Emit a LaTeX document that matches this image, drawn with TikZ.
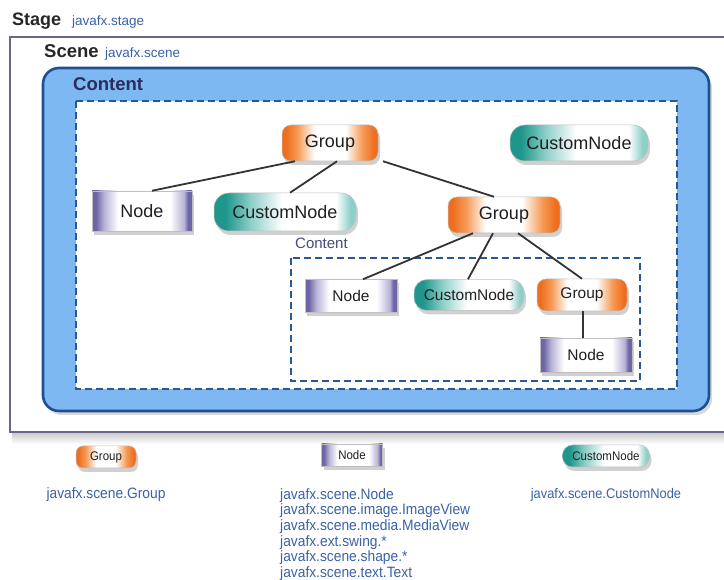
\documentclass[tikz,border=0pt]{standalone}
\usepackage{fontspec}
\setmainfont{Liberation Sans}
\newfontfamily\narrowfont{Liberation Sans}[FakeStretch=0.92]
\usetikzlibrary{shadows,positioning}

\definecolor{stageline}{HTML}{6A6688}
\definecolor{scenefill}{HTML}{7DB8F2}
\definecolor{sceneline}{HTML}{1F4F8E}
\definecolor{dashline}{HTML}{2A5892}
\definecolor{pkgtext}{HTML}{3A62A6}
\definecolor{navy}{HTML}{2A2D5E}
\definecolor{edge}{HTML}{333333}
\definecolor{grpA}{HTML}{EE6E1E}
\definecolor{grpB}{HTML}{F59A55}
\definecolor{nodA}{HTML}{6D66A6}
\definecolor{nodB}{HTML}{B7B2D6}
\definecolor{cusA}{HTML}{1E968C}
\definecolor{cusB}{HTML}{8FCFC9}

% edge-heavy fills for the three kinds of scene-graph nodes
\pgfdeclarehorizontalshading{grpshade}{100bp}{color(0bp)=(grpA); color(25bp)=(grpA);
  color(27bp)=(grpA); color(33bp)=(grpB); color(42bp)=(white); color(58bp)=(white);
  color(67bp)=(grpB); color(73bp)=(grpA); color(75bp)=(grpA); color(100bp)=(grpA)}
\pgfdeclarehorizontalshading{nodshade}{100bp}{color(0bp)=(nodA); color(25bp)=(nodA);
  color(27bp)=(nodA); color(31bp)=(nodB); color(38bp)=(white); color(64bp)=(white);
  color(71bp)=(nodB); color(73bp)=(nodA); color(75bp)=(nodA); color(100bp)=(nodA)}
\pgfdeclarehorizontalshading{cusshade}{100bp}{color(0bp)=(cusA); color(25bp)=(cusA);
  color(29bp)=(cusA); color(38bp)=(cusB); color(49bp)=(white); color(68bp)=(white);
  color(73bp)=(cusB); color(75bp)=(cusB); color(100bp)=(cusB)}

\tikzset{
  sg/.style={draw=black!25, line width=0.5pt, text=black!88, inner sep=0pt,
    drop shadow={shadow xshift=2pt, shadow yshift=-4pt, opacity=0.3, fill=black!60}},
  grpbox/.style={sg, shading=grpshade, rounded corners=9pt},
  nodbox/.style={sg, shading=nodshade},
  cusbox/.style={sg, shading=cusshade, rounded corners=15pt},
  big/.style={font=\fontsize{18}{20}\selectfont, yshift=-1pt},
  mid/.style={font=\fontsize{15.5}{17}\selectfont},
  tiny/.style={font=\narrowfont\fontsize{12.5}{14}\selectfont},
  pkg/.style={text=pkgtext, inner sep=0pt},
  link/.style={draw=edge, line width=1.8pt},
}

\begin{document}
\begin{tikzpicture}[x=1pt, y=-1pt]
\useasboundingbox (0,0) rectangle (724,580);
\fill[white] (0,0) rectangle (724,580);

% Stage window, open to the right
\shade[top color=black!22, bottom color=white] (12,432) rectangle (724,444);
\draw[stageline, line width=1.6pt, fill=white] (10,37) rectangle (740,432);
\node[anchor=base west, inner sep=0pt, font=\bfseries\fontsize{18}{20}\selectfont, text=black!85] (stage) at (12,26) {Stage};
\node[anchor=base west, pkg, font=\fontsize{13.5}{15}\selectfont] (stagepkg) at (72,26) {javafx.stage};

% Scene
\node[anchor=base west, inner sep=0pt, font=\bfseries\fontsize{18.5}{20}\selectfont, text=black!85] (scene) at (44,58) {Scene};
\node[anchor=base west, pkg, font=\fontsize{13.5}{15}\selectfont] (scenepkg) at (105,58) {javafx.scene};

\draw[sceneline, line width=2.6pt, fill=scenefill, rounded corners=16pt,
  drop shadow={shadow xshift=3pt, shadow yshift=-4pt, opacity=0.25, fill=black!60}]
  (43,68) rectangle (709,411);
\node[anchor=base west, inner sep=0pt, font=\bfseries\fontsize{18.5}{20}\selectfont, text=navy] (content) at (73,91) {Content};
\draw[dashline, line width=2.6pt, dash pattern=on 7pt off 4pt, fill=white] (76,101) rectangle (677,389);

% inner content group
\node[anchor=base west, inner sep=0pt, font=\fontsize{15}{17}\selectfont, text=navy!85] (content2) at (295,249) {Content};
\draw[dashline, line width=2pt, dash pattern=on 7pt off 4pt] (291,258) rectangle (640,381);

% scene graph nodes
\node[grpbox, big, minimum width=96pt, minimum height=36pt] (g1) at (330,142) {Group};
\node[cusbox, big, minimum width=138pt, minimum height=36pt] (c1) at (579,142) {CustomNode};
\node[nodbox, big, minimum width=100pt, minimum height=40pt] (n1) at (142,210) {Node};
\node[cusbox, big, minimum width=142pt, minimum height=38pt] (c2) at (285,211) {CustomNode};
\node[grpbox, big, minimum width=112pt, minimum height=36pt] (g2) at (504,214) {Group};
\node[nodbox, mid, minimum width=92pt, minimum height=33pt] (n2) at (351,296) {Node};
\node[cusbox, mid, minimum width=110pt, minimum height=31pt, rounded corners=13pt] (c3) at (469,295) {CustomNode};
\node[grpbox, mid, minimum width=90pt, minimum height=32pt] (g3) at (582,295) {Group};
\node[nodbox, mid, minimum width=92pt, minimum height=34pt] (n3) at (586,355) {Node};

% parent-child links
\draw[link] ([xshift=-35pt]g1.south) -- ([xshift=10pt]n1.north);
\draw[link] ([xshift=7pt]g1.south) -- ([xshift=5pt]c2.north);
\draw[link] ([xshift=53pt]g1.south) -- ([xshift=-10pt]g2.north);
\draw[link] ([xshift=-31pt]g2.south) -- ([xshift=12pt]n2.north);
\draw[link] ([xshift=-11pt]g2.south) -- ([xshift=-1pt]c3.north);
\draw[link] ([xshift=14pt]g2.south) -- ([xshift=0pt]g3.north);
\draw[link] ([xshift=1pt]g3.south) -- ([xshift=-3pt]n3.north);

% legend
\node[grpbox, tiny, minimum width=60pt, minimum height=22pt, rounded corners=7pt] (lg) at (106,457) {Group};
\node[nodbox, tiny, minimum width=61pt, minimum height=22pt] (ln) at (352,455) {Node};
\node[cusbox, tiny, minimum width=87pt, minimum height=22pt, rounded corners=10pt] (lc) at (606,456) {CustomNode};

\node[pkg, anchor=base, font=\narrowfont\fontsize{15}{15.7}\selectfont] (lgtext) at (106,499) {javafx.scene.Group};
\node[pkg, anchor=north west, align=left, font=\narrowfont\fontsize{15}{15.7}\selectfont] (lntext) at (280,488)
  {javafx.scene.Node\\javafx.scene.image.ImageView\\javafx.scene.media.MediaView\\javafx.ext.swing.*\\javafx.scene.shape.*\\javafx.scene.text.Text};
\node[pkg, anchor=base, font=\narrowfont\fontsize{14}{15.7}\selectfont] (lctext) at (606,499) {javafx.scene.CustomNode};
\end{tikzpicture}
\end{document}
